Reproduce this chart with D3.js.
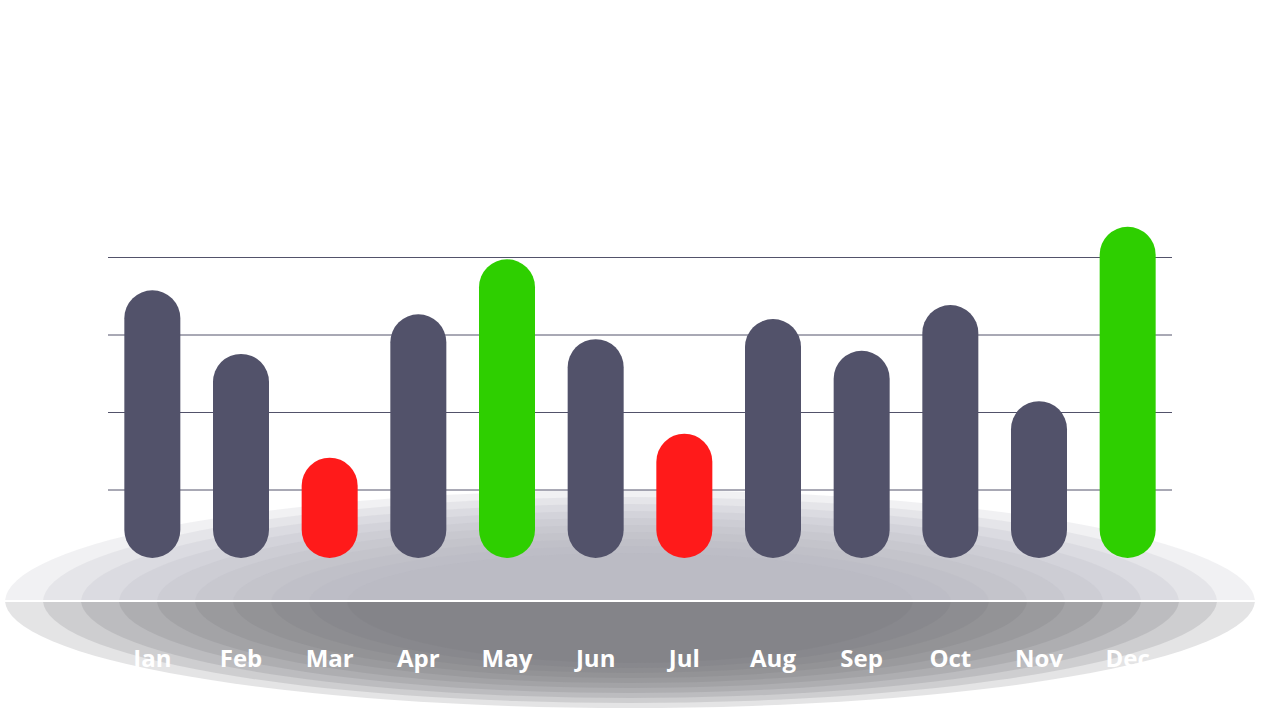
<!DOCTYPE html>
<html><head><meta charset="utf-8">
<script src="https://cdn.jsdelivr.net/npm/d3@7"></script>
<style>body{margin:0;background:#fff}</style></head>
<body><svg width="1280" height="720"></svg>
<script>
const months = ['Jan','Feb','Mar','Apr','May','Jun','Jul','Aug','Sep','Oct','Nov','Dec'];
const values = [3.57, 2.75, 1.41, 3.26, 3.97, 2.94, 1.72, 3.2, 2.79, 3.38, 2.14, 4.39];
const status = ['n','n','low','n','high','n','low','n','n','n','n','high'];
const gridValues = [1, 2, 3, 4];
const COLORS = {n: '#52526a', low: '#ff1a1a', high: '#2ecf00'};

const svg = d3.select('svg');
const x = d3.scaleBand().domain(months).range([108, 1172]);
const y = d3.scaleLinear().domain([0, 4]).range([567, 257]);
const barBottom = 558, barW = 56;

// shadow: upper half ellipse (light), lower half ellipse (dark)
const defs = svg.append('defs');
defs.append('clipPath').attr('id', 'top').append('rect').attr('x', 0).attr('y', 0).attr('width', 1280).attr('height', 600);
defs.append('clipPath').attr('id', 'bot').append('rect').attr('x', 0).attr('y', 602).attr('width', 1280).attr('height', 200);
const rings = d3.range(10);
svg.append('g').attr('clip-path', 'url(#top)').selectAll('ellipse').data(rings).enter()
  .append('ellipse').attr('cx', 630).attr('cy', 602)
  .attr('rx', d => 625 - d * 38).attr('ry', d => 112 - d * 7)
  .attr('fill', '#b4b4ba').attr('opacity', 0.18);
svg.append('g').attr('clip-path', 'url(#bot)').selectAll('ellipse').data(rings).enter()
  .append('ellipse').attr('cx', 630).attr('cy', 600)
  .attr('rx', d => 625 - d * 38).attr('ry', d => 108 - d * 5)
  .attr('fill', '#77777c').attr('opacity', 0.2);

svg.append('g').selectAll('line').data(gridValues).enter().append('line')
  .attr('x1', 108).attr('x2', 1172)
  .attr('y1', d => y(d) + 0.5).attr('y2', d => y(d) + 0.5)
  .attr('stroke', '#52526a').attr('stroke-width', 1);

svg.append('g').selectAll('rect').data(months).enter().append('rect')
  .attr('x', d => x(d) + x.bandwidth() / 2 - barW / 2)
  .attr('y', (d, i) => y(values[i]))
  .attr('width', barW)
  .attr('height', (d, i) => barBottom - y(values[i]))
  .attr('rx', barW / 2)
  .attr('fill', (d, i) => COLORS[status[i]]);

svg.append('g').selectAll('text').data(months).enter().append('text')
  .attr('x', d => x(d) + x.bandwidth() / 2).attr('y', 667)
  .attr('text-anchor', 'middle')
  .style('font-family', 'Open Sans').style('font-weight', 700).style('font-size', '24px')
  .attr('fill', '#fff').text(d => d);
</script></body></html>
